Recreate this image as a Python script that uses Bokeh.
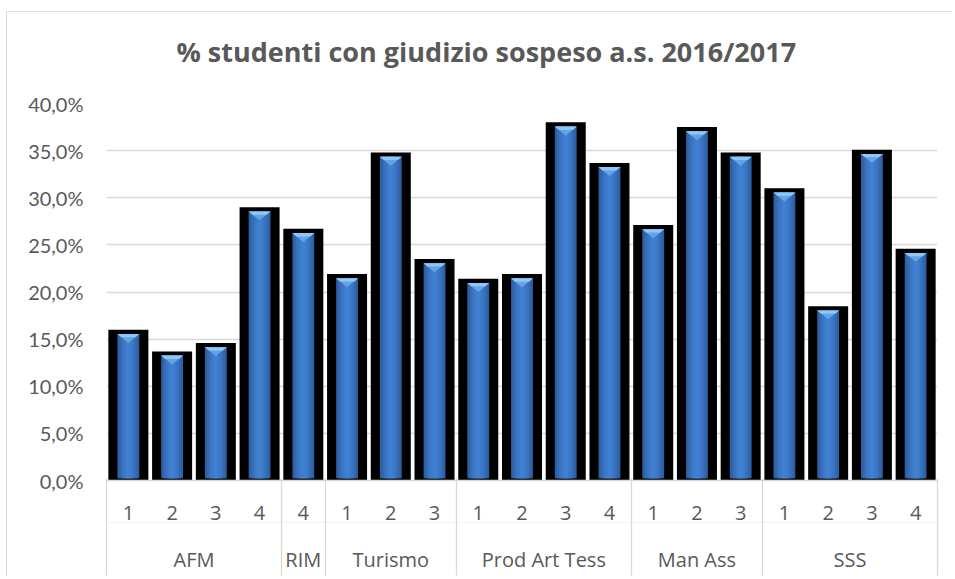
from bokeh.plotting import figure
from bokeh.models import (Range1d, FixedTicker, LinearAxis, CustomJSTickFormatter,
                          ColumnDataSource, Grid, Title)
from bokeh.embed import file_html
from bokeh.resources import INLINE

# ---------------- data ----------------
title_text = "% studenti con giudizio sospeso a.s. 2016/2017"
groups = ["AFM", "RIM", "Turismo", "Prod Art Tess", "Man Ass", "SSS"]
classes = [["1", "2", "3", "4"], ["4"], ["1", "2", "3"],
           ["1", "2", "3", "4"], ["1", "2", "3"], ["1", "2", "3", "4"]]
values = [16.0, 13.7, 14.6, 29.0,
          26.7,
          21.9, 34.8, 23.5,
          21.4, 21.9, 38.0, 33.7,
          27.1, 37.5, 34.8,
          31.0, 18.5, 35.1, 24.6]
y_ticks = [0, 5, 10, 15, 20, 25, 30, 35, 40]

# ---------------- derived ----------------
sub_labels = [c for cl in classes for c in cl]
n = len(values)
xs = list(range(n))
bounds = [-0.5]
group_centers = []
pos = -0.5
for cl in classes:
    group_centers.append(pos + len(cl) / 2)
    pos += len(cl)
    bounds.append(pos)

FONT = "Open Sans"
NUM_FONT = "Lato"
GREY_TXT = "#595959"
GRID = "#d9d9d9"

W, H = 946, 565
p = figure(width=W, height=H, output_backend="svg", toolbar_location=None,
           x_range=Range1d(-0.5, n - 0.5), y_range=Range1d(0, 40),
           x_axis_location=None, y_axis_location=None,
           min_border_left=99, min_border_right=16,
           min_border_top=91, min_border_bottom=97)
p.outline_line_color = None
p.background_fill_color = "white"
p.border_fill_color = "white"
p.xgrid.visible = False
p.ygrid.visible = False
p.styles = {"margin-left": "6px", "margin-top": "11px",
            "border-left": "1px solid #d9d9d9", "border-top": "1px solid #d9d9d9"}

# title
p.title.text = title_text
p.title.align = "left"
p.title.offset = 70
p.title.standoff = 10
p.title.text_font = FONT
p.title.text_font_style = "bold"
p.title.text_font_size = "27px"
p.title.text_color = GREY_TXT
# blank spacer between the title and the plot area
p.add_layout(Title(text=" ", text_font_size="1px", standoff=26), "above")

# y axis
ytick = FixedTicker(ticks=y_ticks)
yaxis = LinearAxis(ticker=ytick,
                   formatter=CustomJSTickFormatter(code="return tick.toFixed(1).replace('.', ',') + '%';"),
                   axis_line_color=None, major_tick_line_color=None, minor_tick_line_color=None,
                   major_tick_out=0, major_tick_in=0,
                   major_label_standoff=23,
                   major_label_text_font=NUM_FONT, major_label_text_font_size="20px",
                   major_label_text_color=GREY_TXT)
p.add_layout(yaxis, "left")
p.add_layout(Grid(dimension=1, ticker=ytick, grid_line_color=GRID, grid_line_width=1.3), "center")

# x axis: first level (class numbers)
xa = LinearAxis(ticker=FixedTicker(ticks=xs, minor_ticks=[]),
                major_label_overrides={i: s for i, s in enumerate(sub_labels)},
                axis_line_color=GRID, axis_line_width=1.3,
                major_tick_line_color=None, major_tick_out=0, major_tick_in=0,
                minor_tick_line_color=None, minor_tick_in=0, minor_tick_out=0,
                major_label_standoff=25,
                major_label_text_font=FONT, major_label_text_font_size="20px",
                major_label_text_color=GREY_TXT)
p.add_layout(xa, "below")

# x axis: second level (groups)
xb = LinearAxis(ticker=FixedTicker(ticks=group_centers, minor_ticks=[]),
                major_label_overrides={c: g for c, g in zip(group_centers, groups)},
                axis_line_color="#f2f2f2", axis_line_width=1,
                major_tick_line_color=None, major_tick_out=0, major_tick_in=0,
                minor_tick_line_color=None, minor_tick_in=0, minor_tick_out=0,
                major_label_standoff=23,
                major_label_text_font=FONT, major_label_text_font_size="20px",
                major_label_text_color=GREY_TXT)
p.add_layout(xb, "below")

# separators between groups, drawn as inward ticks of a bottom axis
xc = LinearAxis(ticker=FixedTicker(ticks=[], minor_ticks=bounds),
                axis_line_color=None,
                major_tick_line_color=None, major_tick_out=0, major_tick_in=0,
                minor_tick_line_color=GRID, minor_tick_line_width=1.3,
                minor_tick_in=97, minor_tick_out=0,
                major_label_standoff=0, major_label_text_font_size="1px",
                major_label_text_color=None)
p.add_layout(xc, "below")

# bars
src = ColumnDataSource(dict(
    x=xs, top=values,
    inner_top=[v - 0.45 for v in values],
    tri_xs=[[x - 0.25, x + 0.25, x] for x in xs],
    tri_ys=[[v - 0.45, v - 0.45, v - 1.4] for v in values],
    tri2_xs=[[x - 0.25, x + 0.25, x + 0.16, x - 0.16] for x in xs],
    tri2_ys=[[v - 0.45, v - 0.45, v - 0.8, v - 0.8] for v in values],
))
p.vbar(x="x", top="top", bottom=0, width=0.915, fill_color="black",
       line_color=None, source=src)
for w, c in [(0.50, "#2d5e9f"), (0.42, "#3368ae"), (0.32, "#3871bd"),
             (0.22, "#3c7ac9"), (0.10, "#4080d2")]:
    p.vbar(x="x", top="inner_top", bottom=0.25, width=w, fill_color=c,
           line_color=None, source=src)
p.patches(xs="tri_xs", ys="tri_ys", fill_color="#64a3e6", line_color=None, source=src)
p.patches(xs="tri2_xs", ys="tri2_ys", fill_color="#8ec6f5", line_color=None, source=src)

open("out.html", "w").write(file_html(p, INLINE))
